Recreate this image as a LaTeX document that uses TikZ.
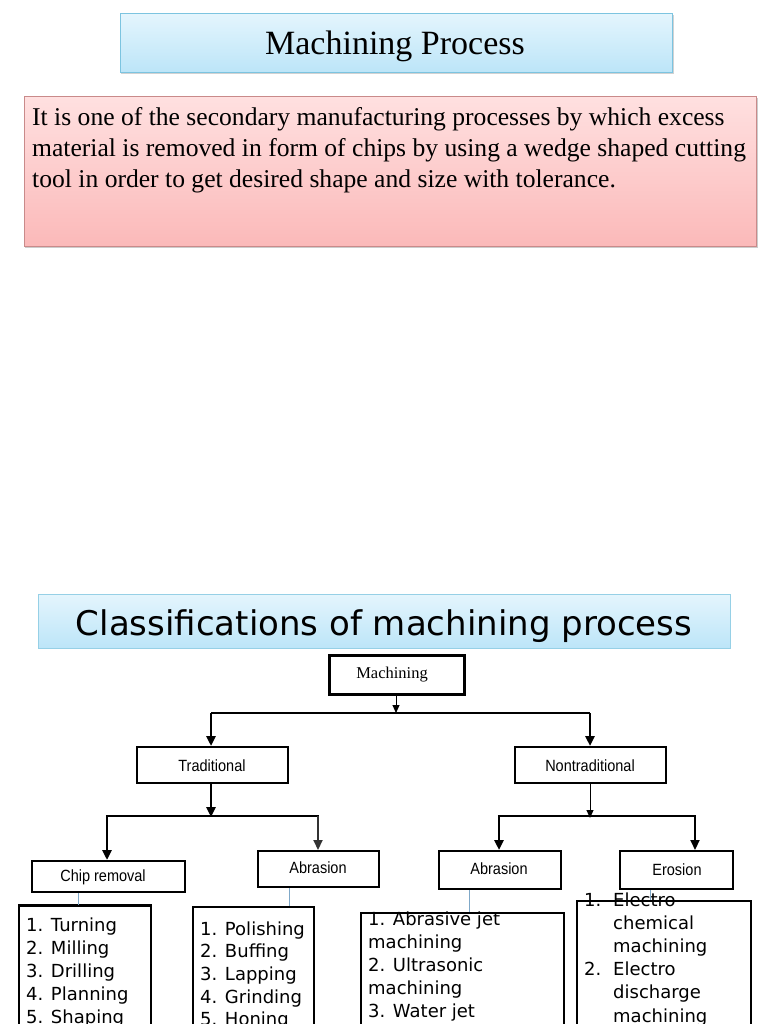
\documentclass[tikz,border=0pt]{standalone}
\usepackage{fontspec}
\setmainfont{Liberation Serif}
\newfontfamily\dv{DejaVu Sans}
\newfontfamily\ls{Liberation Sans}
\usetikzlibrary{arrows.meta}
\definecolor{bluetop}{HTML}{E4F5FD}
\definecolor{bluebot}{HTML}{BCE5F8}
\definecolor{blueedge}{HTML}{7CC4E0}
\definecolor{pinktop}{HTML}{FFE0E0}
\definecolor{pinkbot}{HTML}{FBB9B9}
\definecolor{pinkedge}{HTML}{C98A8A}
\definecolor{thinblue}{HTML}{7FA8C8}
\tikzset{
  titlebox/.style={draw=blueedge, line width=1pt, top color=bluetop, bottom color=bluebot},
  pinkbox/.style={draw=pinkedge, line width=1pt, top color=pinktop, bottom color=pinkbot},
  catbox/.style={draw=black, line width=2pt, fill=white, inner sep=0pt},
  catlabel/.style={font=\ls\fontsize{14.5}{16}\selectfont, inner sep=0pt, yscale=1.12},
  listbox/.style={draw=black, line width=1.6pt, inner sep=0pt},
  listtxt/.style={font=\dv\fontsize{18}{23}\selectfont, inner sep=0pt, anchor=base west},
  bodytxt/.style={font=\fontsize{25.6}{31}\selectfont, inner sep=0pt, anchor=base west},
  thickcon/.style={line width=2.5pt},
  thincon/.style={line width=1pt},
  tip/.style={-{Triangle[length=10pt,width=9pt]}},
  smalltip/.style={-{Triangle[length=8pt,width=7pt]}},
  stub/.style={draw=thinblue, line width=0.8pt}
}
\begin{document}
\begin{tikzpicture}[x=1pt,y=-1pt]
\useasboundingbox (0,0) rectangle (768,1024);
\fill[white] (0,0) rectangle (768,1024);

% Title 1
\fill[gray!35] (121,15) rectangle (674,74);
\node[titlebox, minimum width=552pt, minimum height=59pt, anchor=north west, inner sep=0pt] (t1) at (120,13) {};
\node[font=\fontsize{34}{36}\selectfont, inner sep=0pt, anchor=base] (t1txt) at (395,55) {Machining Process};

% Pink definition box
\fill[gray!40] (25,98) rectangle (758,248);
\node[pinkbox, minimum width=732pt, minimum height=150pt, anchor=north west, inner sep=0pt] (def) at (24,96) {};
\node[bodytxt] (d1) at (32,126) {It is one of the secondary manufacturing processes by which excess};
\node[bodytxt] (d2) at (32,157) {material is removed in form of chips by using a wedge shaped cutting};
\node[bodytxt] (d3) at (32,188) {tool in order to get desired shape and size with tolerance.};

% Title 2
\node[titlebox, draw=blueedge!80, minimum width=692pt, minimum height=54pt, anchor=north west, inner sep=0pt] (t2) at (38,594) {};
\node[font=\dv\fontsize{34}{38}\selectfont, inner sep=0pt, anchor=base] (t2txt) at (384,635) {Classifications of machining process};

% Tree boxes
\node[catbox, line width=3pt, minimum width=135pt, minimum height=39pt] (mach) at (396.5,674.5) {};
\node[font=\fontsize{16.5}{18}\selectfont, inner sep=0pt] (machtxt) at (392,675) {Machining};

\node[catbox, minimum width=151pt, minimum height=36pt] (trad) at (212.5,765) {};
\node[catlabel] (tradtxt) at (212,766) {Traditional};
\node[catbox, minimum width=151pt, minimum height=36pt] (nont) at (590.5,765) {};
\node[catlabel] (nonttxt) at (590,766) {Nontraditional};

\node[catbox, minimum width=153pt, minimum height=31pt] (chip) at (108.5,876.5) {};
\node[catlabel] (chiptxt) at (103,877) {Chip removal};
\node[catbox, minimum width=121pt, minimum height=36pt] (abr1) at (318.5,869) {};
\node[catlabel] (abr1txt) at (318,868) {Abrasion};
\node[catbox, minimum width=122pt, minimum height=38pt] (abr2) at (500,870) {};
\node[catlabel] (abr2txt) at (499,869) {Abrasion};
\node[catbox, minimum width=113pt, minimum height=38pt] (eros) at (676.5,870) {};
\node[catlabel] (erostxt) at (677,870) {Erosion};

% Connectors
\coordinate (j1) at (396,713);
\coordinate (j1l) at (211,713);
\coordinate (j1r) at (590,713);
\draw[thincon, smalltip] (mach.south -| j1) -- (j1);
\draw[thickcon] (j1l) -- (j1r);
\draw[thickcon, tip] (j1l) -- (j1l |- trad.north);
\draw[thickcon, tip] (j1r) -- (j1r |- nont.north);

\coordinate (j2) at (211,816);
\coordinate (j2l) at (107,816);
\coordinate (j2r) at (318,816);
\draw[thickcon, tip] (trad.south -| j2) -- ([yshift=-1pt]j2);
\draw[thickcon] ([xshift=-1.25pt]j2l) -- ([xshift=1.25pt]j2r);
\draw[thickcon, tip] (j2l) -- (j2l |- chip.north);
\draw[line width=2pt, black!80, tip] (j2r) -- (j2r |- abr1.north);

\coordinate (j3) at (590,816);
\coordinate (j3l) at (499,816);
\coordinate (j3r) at (695,816);
\draw[thincon, smalltip] (nont.south -| j3) -- ([yshift=-2pt]j3);
\draw[thickcon] ([xshift=-1.25pt]j3l) -- ([xshift=1.25pt]j3r);
\draw[thickcon, tip] (j3l) -- (j3l |- abr2.north);
\draw[line width=2pt, tip] (j3r) -- (j3r |- eros.north);

% List boxes
\node[listbox, minimum width=132pt, minimum height=140pt, anchor=north west] (l1) at (18,905) {};
\draw[line width=3pt] (l1.north west) -- (l1.north east);
\node[listbox, minimum width=121pt, minimum height=140pt, anchor=north west] (l2) at (192,906) {};
\node[listbox, minimum width=203pt, minimum height=140pt, anchor=north west] (l3) at (360,912) {};
\node[listbox, minimum width=174pt, minimum height=140pt, anchor=north west] (l4) at (576,900) {};

% stubs
\draw[stub] (chip.south -| 78,0) -- (l1.north -| 78,0);
\draw[stub] (abr1.south -| 289,0) -- (l2.north -| 289,0);
\draw[stub] (abr2.south -| 469,0) -- (l3.north -| 469,0);
\draw[stub] (eros.south -| 650,0) -- (l4.north -| 650,0);

% list texts
\foreach \t [count=\i] in {1. Turning, 2. Milling, 3. Drilling, 4. Planning, 5. Shaping}
  \node[listtxt] (la\i) at (26,{931+23*(\i-1)}) {\t};
\foreach \t [count=\i] in {1. Polishing, 2. Buffing, 3. Lapping, 4. Grinding, 5. Honing}
  \node[listtxt] (lb\i) at (200,{935+22.7*(\i-1)}) {\t};
\foreach \t [count=\i] in {1. Abrasive jet, machining, 2. Ultrasonic, machining, 3. Water jet}
  \node[listtxt] (lc\i) at (368,{925+23.2*(\i-1)}) {\t};
\node[listtxt] (ld1n) at (584,906) {1.};
\node[listtxt] (ld2n) at (584,975.6) {2.};
\foreach \t [count=\i] in {Electro, chemical, machining, Electro, discharge, machining}
  \node[listtxt] (ld\i) at (613,{906+23.2*(\i-1)}) {\t};
\end{tikzpicture}
\end{document}
